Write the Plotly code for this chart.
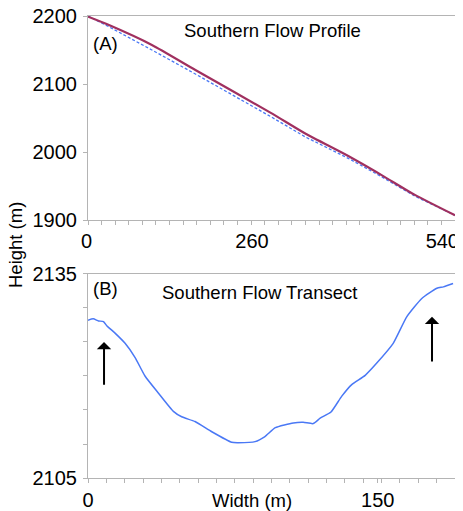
import plotly.graph_objects as go

# ---- Data ----
profile_x = [0, 30, 94, 158, 269, 319, 383, 432, 481, 540]
profile_solid = [2199, 2187, 2157.4, 2120.6, 2057.5, 2027.5, 1994, 1966, 1937, 1907]
dashed_x = [0, 30, 94, 158, 269, 319, 383, 432, 481, 540]
profile_dashed = [2200, 2184.6, 2150, 2114.7, 2052, 2022.6, 1990.7, 1963.7, 1935, 1907]

transect_x = [0, 2.7, 5.4, 8.0, 9.7, 14.0, 19.2, 24.4, 29.5, 36.4, 44.2, 48.5, 55.4, 64.1,
              74.4, 77.8, 86.5, 91.6, 97.0, 106.3, 111.4, 116.6, 120.2, 125.8, 131.3, 136.4,
              143.5, 149.5, 158.0, 165.0, 172.8, 180.6, 184.0, 189.0]
transect_y = [2128.2, 2128.4, 2128.1, 2128.0, 2127.4, 2126.3, 2124.8, 2122.7, 2120.0, 2117.5,
              2114.8, 2114.0, 2113.3, 2111.8, 2110.25, 2110.2, 2110.35, 2111.1, 2112.4, 2113.1,
              2113.2, 2113.0, 2113.8, 2114.7, 2117.0, 2118.7, 2120.1, 2121.9, 2124.8, 2128.7,
              2131.4, 2132.9, 2133.1, 2133.6]

top_xticks = [0, 260, 540]
top_yticks = [1900, 2000, 2100, 2200]
bot_xticks = [0, 150]
bot_yticks = [2105, 2135]

# arrows: (x, head y, tail y)
arrows = [(8.3, 2125.0, 2118.5), (178.1, 2128.7, 2121.9)]

FONT = "Liberation Sans, Arial, sans-serif"
AX = "#b4b4b4"
SOLID = "#a0305f"
BLUE = "#4a78f5"

fig = go.Figure()
fig.add_trace(go.Scatter(x=dashed_x, y=profile_dashed, mode="lines",
                         line=dict(color=BLUE, width=1.3, dash="3px,2px"),
                         xaxis="x", yaxis="y", showlegend=False))
fig.add_trace(go.Scatter(x=profile_x, y=profile_solid, mode="lines",
                         line=dict(color=SOLID, width=2.2, shape="spline", smoothing=0.6),
                         xaxis="x", yaxis="y", showlegend=False))
fig.add_trace(go.Scatter(x=transect_x, y=transect_y, mode="lines",
                         line=dict(color=BLUE, width=1.5, shape="spline", smoothing=0.5),
                         xaxis="x2", yaxis="y2", showlegend=False))

common = dict(showline=True, linecolor=AX, linewidth=1, mirror=True, showgrid=False,
              zeroline=False, ticks="outside", ticklen=4, tickcolor=AX, automargin=False,
              ticklabeloverflow="allow",
              tickfont=dict(size=20, color="black", family=FONT))

# page body adds an 8px offset, so the figure is 8px smaller than the window
fig.update_layout(
    template="none",
    width=455, height=503,
    margin=dict(l=80, r=8, t=8, b=33, autoexpand=False),
    paper_bgcolor="white", plot_bgcolor="white",
    font=dict(family=FONT, color="black"),
    showlegend=False,
    xaxis=dict(domain=[0, 1], anchor="y", range=[0, 540], tickvals=top_xticks,
               ticklabelposition="outside left", ticklabelshift=5,
               minor=dict(dtick=20, tick0=0, ticks="outside", ticklen=4, tickcolor=AX),
               ticklabelstandoff=3, **common),
    yaxis=dict(domain=[0.5584, 1], anchor="x", range=[1900, 2200], tickvals=top_yticks,
               ticklabelstandoff=2, **common),
    xaxis2=dict(domain=[0, 1], anchor="y2", range=[0, 190], tickvals=bot_xticks,
                minor=dict(dtick=9.5, tick0=0, ticks="outside", ticklen=4, tickcolor=AX),
                ticklabelstandoff=0, **common),
    yaxis2=dict(domain=[0, 0.4416], anchor="x2", range=[2105, 2135], tickvals=bot_yticks,
                minor=dict(dtick=5, tick0=2105, ticks="outside", ticklen=4, tickcolor=AX),
                ticklabelstandoff=2, **common),
)

def px2paper(px, py):
    # reference-window pixels -> paper coordinates
    return (px - 88) / 367.0, (478 - py) / 462.0

annots = []
for txt, px, py, anchor in [("Southern Flow Profile", 272, 31, "center"),
                            ("(A)", 91, 44, "left"),
                            ("(B)", 91, 288, "left"),
                            ("Southern Flow Transect", 259, 292, "center"),
                            ("Width (m)", 252, 500, "center")]:
    x, y = px2paper(px, py)
    annots.append(dict(text=txt, x=x, y=y, xref="paper", yref="paper", showarrow=False,
                       xanchor=anchor, yanchor="middle", font=dict(size=18.5, family=FONT, color="black")))
x, y = px2paper(15, 245)
annots.append(dict(text="Height (m)", x=x, y=y, xref="paper", yref="paper", showarrow=False,
                   textangle=-90, xanchor="center", yanchor="middle",
                   font=dict(size=18.5, family=FONT, color="black")))
for ax_x, head, tail in arrows:
    annots.append(dict(text="", x=ax_x, y=head, ax=ax_x, ay=tail, xref="x2", yref="y2",
                       axref="x2", ayref="y2", showarrow=True, arrowhead=1, arrowsize=1.2,
                       arrowwidth=2, arrowcolor="black"))
fig.update_layout(annotations=annots)

fig.write_html("out.html")
